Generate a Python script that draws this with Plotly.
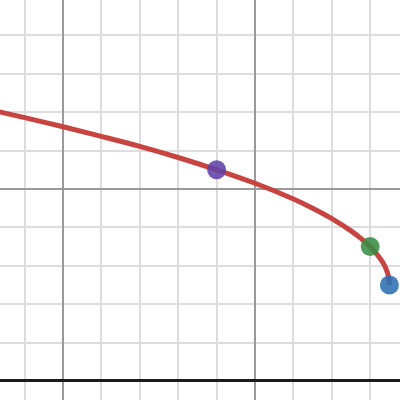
import plotly.graph_objects as go

# Curve points
curve_x = [3.3, 4, 5, 6, 7, 8, 9, 10, 11, 11.5, 12, 12.5, 12.75, 13, 13.1, 13.2, 13.3, 13.35, 13.4, 13.45, 13.48, 13.5]
curve_y = [7.02, 6.86, 6.62, 6.37, 6.11, 5.82, 5.5, 5.15, 4.74, 4.5, 4.23, 3.91, 3.72, 3.5, 3.39, 3.27, 3.13, 3.05, 2.95, 2.82, 2.70, 2.5]

# Highlighted points
pt_x = [9, 13, 13.5]
pt_y = [5.5, 3.5, 2.5]
pt_colors = ["#6042a6", "#388c46", "#2d70b3"]

fig = go.Figure()
fig.add_trace(go.Scatter(x=curve_x, y=curve_y, mode="lines",
                         line=dict(color="#c74440", width=5, shape="spline"),
                         cliponaxis=False, hoverinfo="skip"))
for x, y, c in zip(pt_x, pt_y, pt_colors):
    fig.add_trace(go.Scatter(x=[x], y=[y], mode="markers",
                             marker=dict(color=c, size=19, opacity=0.88, line=dict(width=0)),
                             cliponaxis=False, hoverinfo="skip"))

axis_common = dict(
    showticklabels=False, ticks="", showline=False,
    showgrid=True, gridcolor="#9a9a9a", gridwidth=2, dtick=5, tick0=0,
    minor=dict(showgrid=True, dtick=1, tick0=0, gridcolor="#dddddd", gridwidth=2),
)
fig.update_layout(
    width=400, height=400, margin=dict(l=0, r=0, t=0, b=0),
    paper_bgcolor="white", plot_bgcolor="white", showlegend=False,
    xaxis=dict(range=[3.359, 13.776], zeroline=False, **axis_common),
    yaxis=dict(range=[-0.495, 9.922], zeroline=True, zerolinecolor="#1a1a1a", zerolinewidth=3, **axis_common),
)
fig.write_html("out.html", config={"displayModeBar": False},
               post_script="document.body.style.margin='0';document.body.style.overflow='hidden';")
